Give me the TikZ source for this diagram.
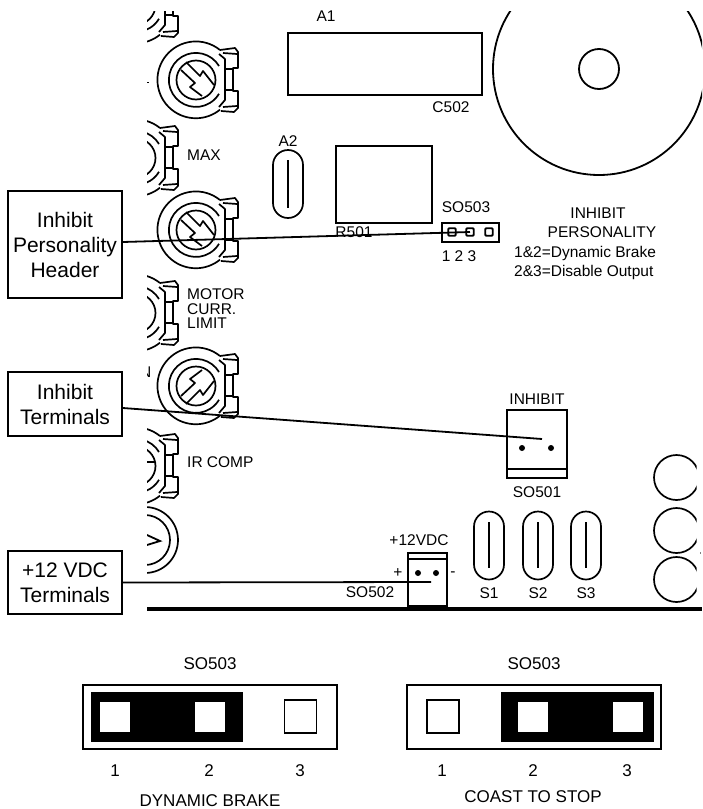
\documentclass[tikz,border=0pt]{standalone}
\usepackage{fontspec}
\setmainfont{Liberation Sans}
\usetikzlibrary{positioning}

\tikzset{
    lbl/.style={inner sep=0pt, font=\fontsize{15.5}{15.5}\selectfont},
    bigtxt/.style={inner sep=0pt, font=\fontsize{17}{17}\selectfont},
    callout/.style={draw, line width=1.6pt, minimum width=114pt, align=center, inner sep=0pt,
        font=\fontsize{21}{25}\selectfont},
    part/.style={draw, line width=1.8pt, inner sep=0pt},
    trim/.style={draw, line width=1.7pt, inner sep=0pt, minimum width=30pt, minimum height=68pt, rounded corners=15pt},
    pin/.style={draw, line width=1.9pt, inner sep=0pt, minimum size=7.5pt, rounded corners=1pt},
    hole/.style={draw=none, fill=white, inner sep=0pt, minimum width=30pt, minimum height=30pt},
    openpin/.style={draw, line width=1.3pt, inner sep=0pt, minimum width=32pt, minimum height=33pt},
    jumper/.style={draw=none, fill=black, inner sep=0pt, minimum width=152pt, minimum height=50pt},
    header/.style={draw, line width=1.2pt, inner sep=0pt, minimum width=254pt, minimum height=64pt},
    leader/.style={line width=1.8pt}
}

\begin{document}
\begin{tikzpicture}[x=1pt, y=-1pt]
    \useasboundingbox (0,0) rectangle (702,809);

    % trim pots, cut by the board edge
    \begin{scope}
        \clip (147,11) rectangle (702,620);
        \foreach \px/\py in {136/5, 196/80, 136/158, 196/230, 136/313, 196/386, 136/466}
        {
            \begin{scope}[shift={(\px,\py)}, line width=1.7pt, line join=round]
                \draw (24,-30) arc [start angle=51, end angle=309, radius=38.4pt];
                \draw (23,-14) arc [start angle=31, end angle=329, radius=27pt];
                \draw (0,0) circle (19.5pt);
                \draw (24,-30) -- (39,-32) -- (42,-28) -- (42,-12) -- (37,-12) -- (37,11)
                    -- (42,11) -- (42,28) -- (38,32) -- (25,31);
                \draw (23,-26) -- (29,-21) -- (29,20) -- (23,27);
                \draw (29,-11) -- (37,-11) (29,10) -- (37,10);
                \draw (27,-27) -- (41,-26) (27,27) -- (41,26);
                \draw [line width=2.4pt] (37,-11) -- (37,10);
            \end{scope}
        }
        % slots of the three whole pots
        \foreach \py/\flip in {80/1, 230/1, 386/-1}
        {
            \begin{scope}[shift={(196,\py)}, yscale=\flip, line width=1.7pt, line join=round]
                \draw (-10,-18) -- (4,-4) -- (7,-9) -- (18,5);
                \draw (-15,-10) -- (-1,3) -- (-6,7) -- (6,16);
            \end{scope}
        }
        \draw [line width=1.7pt] (136,462) -- (155,462);
        \draw [line width=1.7pt] (145,540) circle (33pt);
        \draw [line width=1.7pt] (145,540) circle (25pt);
        \draw [line width=1.8pt] (147,535) -- (160,541) -- (147,545);
        \draw [line width=1pt] (147,82) -- (148.5,82);
        \node [lbl, anchor=east] (cutn) at (151.5,372) {N};
        % big capacitor
        \draw [line width=1.8pt] (599,69) circle (106pt);
    \end{scope}
    \node [part, minimum size=40pt, circle] (bighole) at (599,69) {};

    % parts on the board
    \node [part, minimum width=194pt, minimum height=62pt] (a1box) at (385,64) {};
    \node [part, minimum width=96pt, minimum height=77pt] (r501) at (384,184.5) {};
    \node [trim] (a2) at (288,184) {};
    \draw [line width=1.7pt] (288,160) -- (288,208);
    \node [lbl] (a1txt) at (326,16) {A1};
    \node [lbl] (c502) at (451,107) {C502};
    \node [lbl] (a2txt) at (288,141) {A2};
    \node [lbl] (r501txt) at (354,232) {R501};
    \node [lbl, anchor=west] (maxtxt) at (187,155) {MAX};
    \node [lbl, anchor=west] (motor) at (187,294) {MOTOR};
    \node [lbl, anchor=west] (curr) at (187,309) {CURR.};
    \node [lbl, anchor=west] (limit) at (187,323) {LIMIT};
    \node [lbl, anchor=west] (ircomp) at (187,462) {IR COMP};

    % SO503 on the board
    \node [part, minimum width=57pt, minimum height=19pt] (hdr) at (470.5,232.5) {};
    \node [pin] (pin1) at (452,232) {};
    \node [pin] (pin2) at (470,232) {};
    \node [pin] (pin3) at (489,232) {};
    \node [lbl] (hdrtxt) at (466,207) {SO503};
    \node [lbl] (hdrnum) at (459,256) {1 2 3};
    \node [lbl] (pers1) at (598,213) {INHIBIT};
    \node [lbl] (pers2) at (602,232) {PERSONALITY};
    \node [lbl, anchor=west] (pers3) at (514,253) {1\&2=Dynamic Brake};
    \node [lbl, anchor=west] (pers4) at (514,272) {2\&3=Disable Output};

    % SO501
    \node [part, minimum width=60pt, minimum height=68pt] (so501) at (537,444) {};
    \draw [line width=1.8pt] (so501.west |- 0,469) -- (so501.east |- 0,469);
    \fill (522,448) circle (3pt) (551,448) circle (3pt);
    \node [lbl, above=4pt of so501] (inhtxt) {INHIBIT};
    \node [lbl, below=8pt of so501] (so501txt) {SO501};
    \coordinate (inhend) at (542,439);

    % S1 to S3
    \foreach \sx/\sname in {489/S1, 538/S2, 586/S3}
    {
        \node [trim] (\sname) at (\sx,545.5) {};
        \draw [line width=1.7pt] (\sx,522) -- (\sx,568);
        \node [lbl] (\sname txt) at (\sx,593) {\sname};
    }

    % row of round parts at the right
    \begin{scope}
        \clip (640,440) rectangle (696.5,620);
        \foreach \cy in {477.5, 530.5, 579.5}
            \draw [line width=1.7pt] (676.5,\cy) circle (22.5pt);
    \end{scope}
    \draw [line width=1pt, gray] (700,552) -- (700,554);

    % SO502
    \node [part, minimum width=39pt, minimum height=54pt] (so502) at (427.5,580) {};
    \draw [line width=1.8pt] (so502.west |- 0,559) -- (so502.east |- 0,559);
    \fill (418,573) circle (3pt) (436,573) circle (3pt);
    \node [lbl] (vdctxt) at (419,540) {+12VDC};
    \node [lbl] (plus) at (398,573) {+};
    \node [lbl] (minus) at (453,574) {-};
    \node [lbl] (so502txt) at (370,592) {SO502};
    \coordinate (vdcend) at (431,582);
    \draw [line width=4pt] (147,609) -- (702,609);
    \draw [line width=3pt] (so502.west |- 0,606) -- (so502.east |- 0,606);

    % callouts
    \node [callout, minimum height=107pt] (persbox) at (65,244.5) {Inhibit\\Personality\\Header};
    \node [callout, minimum height=64pt] (inhbox) at (65,404) {Inhibit\\Terminals};
    \node [callout, minimum height=63pt] (vdcbox) at (65,582.5) {+12 VDC\\Terminals};

    \draw [leader] ([yshift=2.5pt]persbox.east) -- (pin2.center);
    \draw [leader] ([yshift=-4pt]inhbox.east) -- (inhend);
    \draw [leader] (vdcbox.east) -- (vdcend);

    % the two jumper settings
    \node [header] (brake) at (210,717) {};
    \node [jumper] (brakejmp) at (166.5,717) {};
    \node [hole] (brake1) at (115,717) {};
    \node [hole] (brake2) at (210,717) {};
    \node [openpin] (brake3) at (300.5,716.5) {};
    \node [bigtxt, above=15pt of brake] (braketop) {SO503};
    \node [bigtxt] (brakename) at (210,800.5) {DYNAMIC BRAKE};

    \node [header] (coast) at (534,717) {};
    \node [jumper, minimum width=153pt] (coastjmp) at (577.5,717) {};
    \node [openpin] (coast1) at (443,716.5) {};
    \node [hole] (coast2) at (533,717) {};
    \node [hole] (coast3) at (628,717) {};
    \node [bigtxt, above=15pt of coast] (coasttop) {SO503};
    \node [bigtxt] (coastname) at (533,797) {COAST TO STOP};

    \foreach \nx/\nn in {115/1, 209/2, 300/3, 442/1, 533/2, 627/3}
        \node [bigtxt] (num\nx) at (\nx,771) {\nn};
\end{tikzpicture}
\end{document}
